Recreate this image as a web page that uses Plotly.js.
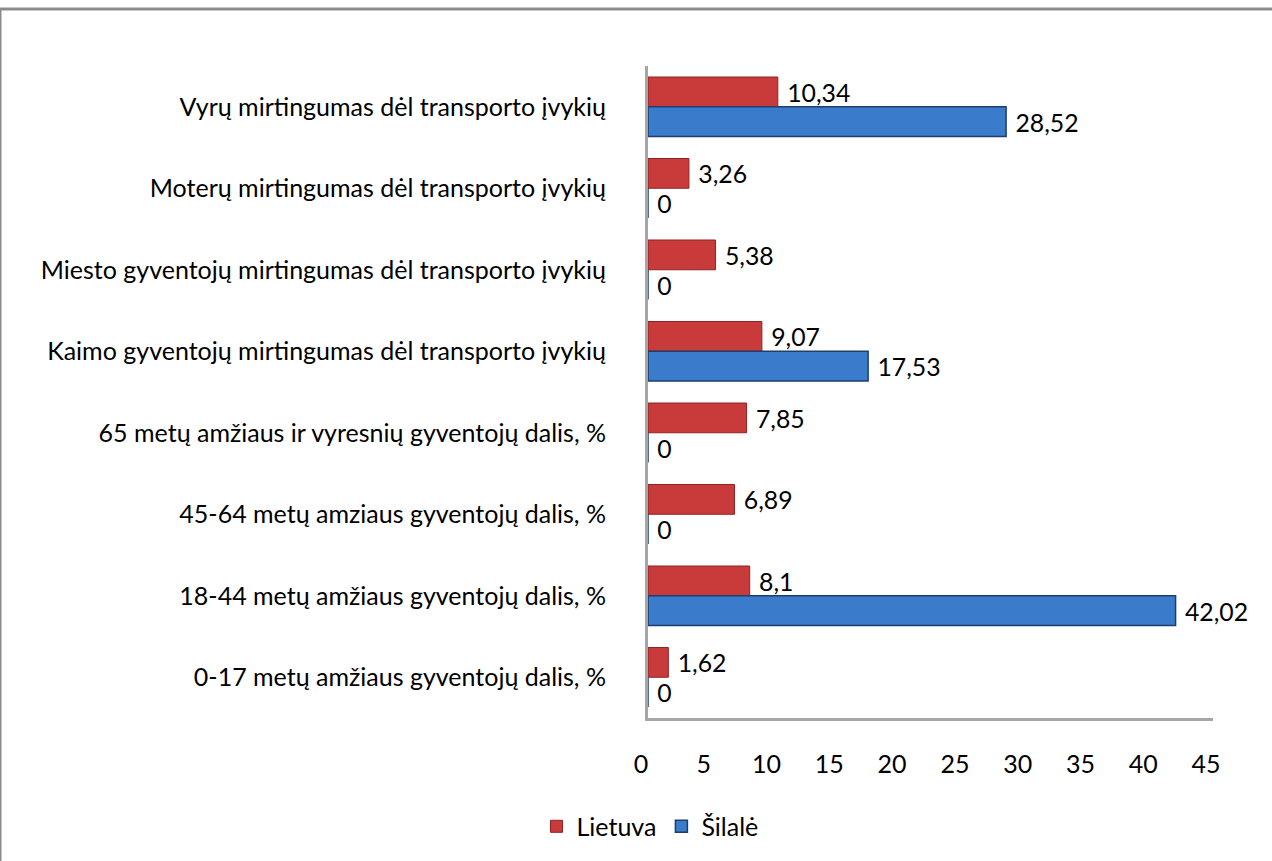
<!DOCTYPE html>
<html>
<head>
<meta charset="utf-8">
<script src="https://cdn.plot.ly/plotly-3.0.1.min.js"></script>
<style>html,body{margin:0;padding:0;background:#fff;}#chart{width:1272px;height:861px;}</style>
</head>
<body>
<div id="chart"></div>
<script>
var categories = [
  "Vyrų mirtingumas dėl transporto įvykių",
  "Moterų mirtingumas dėl transporto įvykių",
  "Miesto gyventojų mirtingumas dėl transporto įvykių",
  "Kaimo gyventojų mirtingumas dėl transporto įvykių",
  "65 metų amžiaus ir vyresnių gyventojų dalis, %",
  "45-64 metų amziaus gyventojų dalis, %",
  "18-44 metų amžiaus gyventojų dalis, %",
  "0-17 metų amžiaus gyventojų dalis, %"
];
var lietuva = [10.34, 3.26, 5.38, 9.07, 7.85, 6.89, 8.1, 1.62];
var silale  = [28.52, 0, 0, 17.53, 0, 0, 42.02, 0];
var seriesNames = ["Lietuva", "Šilalė"];
var xTicks = [0, 5, 10, 15, 20, 25, 30, 35, 40, 45];

function fmt(v){ return "\u00a0" + String(v).replace(".", ","); }

var font = "Lato, 'Open Sans', sans-serif";
var fs = 25;

var traces = [
  {
    type: "bar", orientation: "h", name: seriesNames[0],
    y: categories, x: lietuva,
    text: lietuva.map(fmt), textposition: "outside", cliponaxis: false,
    textfont: {family: font, size: fs, color: "#000"},
    marker: {color: "#C93B3B", line: {color: "#8E2323", width: 1}}
  },
  {
    type: "bar", orientation: "h", name: seriesNames[1],
    y: categories, x: silale,
    text: silale.map(fmt), textposition: "outside", cliponaxis: false,
    textfont: {family: font, size: fs, color: "#000"},
    marker: {color: "#3A7BCB", line: {color: "#1F3E6B", width: 1.5}}
  }
];

var layout = {
  width: 1272, height: 861,
  paper_bgcolor: "#fff", plot_bgcolor: "#fff",
  margin: {l: 648, r: 59, t: 66, b: 143},
  barmode: "group", bargap: 0.27, bargroupgap: 0,
  showlegend: true,
  legend: {
    orientation: "h", xref: "container", yref: "container",
    x: 0.511, xanchor: "center", y: 0.04, yanchor: "middle",
    font: {family: font, size: fs, color: "#000"},
    itemwidth: 30, traceorder: "normal"
  },
  xaxis: {
    range: [0, 45], tickvals: xTicks, ticktext: xTicks.map(String),
    showgrid: false, zeroline: false,
    showline: true, linecolor: "#A6A6A6", linewidth: 3,
    ticks: "", ticklabelstandoff: 22, ticklabelshift: -7,
    tickfont: {family: font, size: fs, color: "#000"}
  },
  yaxis: {
    type: "category", autorange: "reversed",
    showgrid: false, zeroline: false,
    showline: true, linecolor: "#A6A6A6", linewidth: 3,
    ticks: "", ticklabelstandoff: 34,
    tickfont: {family: font, size: fs, color: "#000"}
  },
  shapes: [
    {type: "rect", xref: "paper", yref: "paper",
     x0: -648/565, x1: 1.2, y0: -0.3, y1: (861-9-143)/652,
     line: {color: "#8C8C8C", width: 3}, fillcolor: "rgba(0,0,0,0)", layer: "below"}
  ]
};

Plotly.newPlot("chart", traces, layout, {displayModeBar: false, staticPlot: true});
</script>
</body>
</html>
